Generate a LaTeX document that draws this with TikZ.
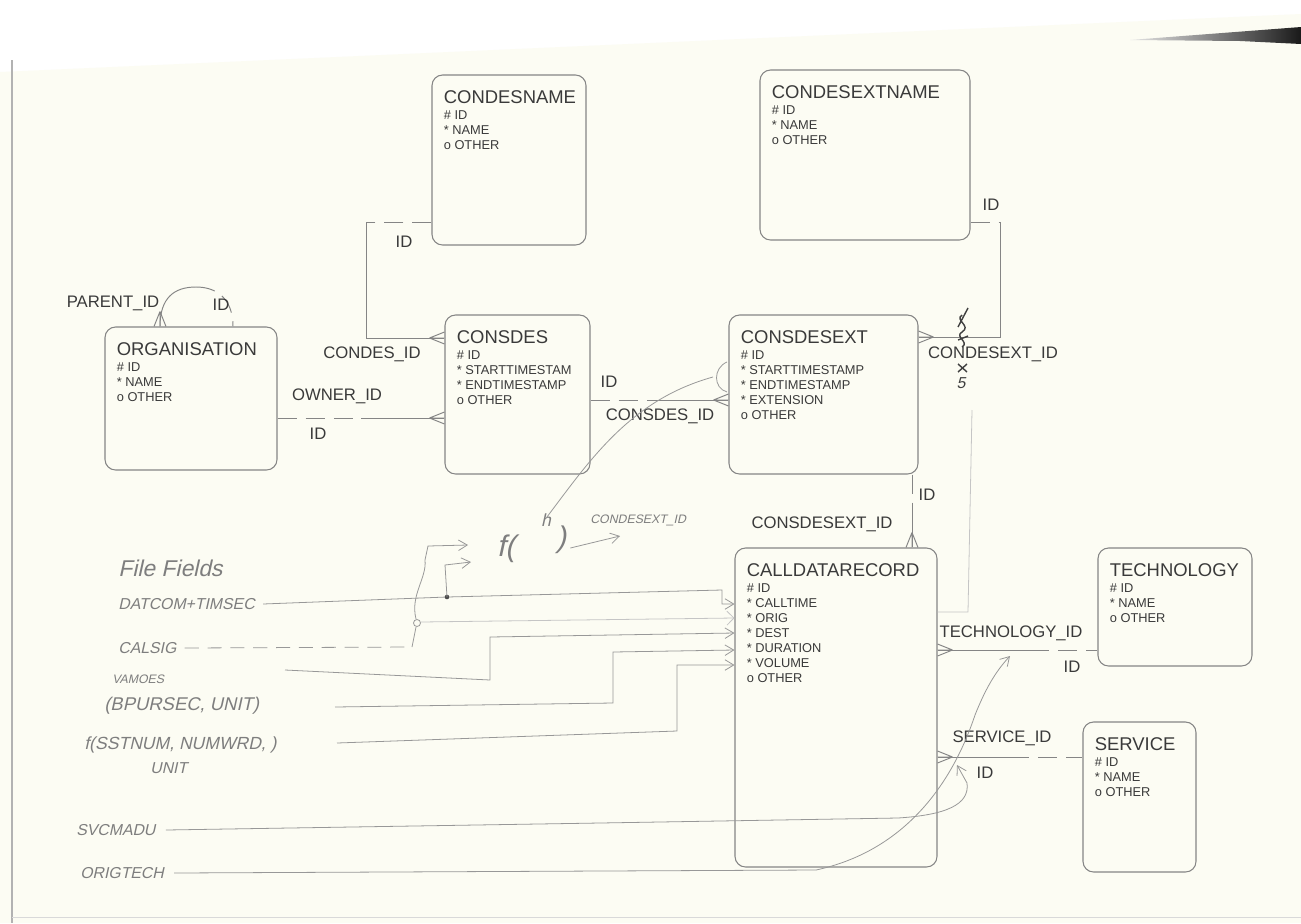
\documentclass[tikz,border=0pt]{standalone}
\usepackage{fontspec}
\setmainfont{Liberation Sans}
\newfontfamily\handfont[FakeSlant=0.22]{Liberation Sans}
\usetikzlibrary{arrows.meta,positioning,fit,calc}
\definecolor{paper}{HTML}{FCFCF3}
\definecolor{ink}{HTML}{3A3A3A}
\definecolor{rule}{HTML}{858585}
\definecolor{pencil}{HTML}{7E7E7E}

% one table of the model: name, corner, corner, title, attributes
\newcommand{\entity}[6]{%
  \node[entbox, fit={#2 #3}] (#1) {};
  \node[ttl] (#1-t) at ($(#1.north west)+(12,16)$) {#4};
  \node[attrs, below=3.5pt of #1-t.south west, anchor=north west] (#1-a) {#5};
}

\begin{document}
\begin{tikzpicture}[
  x=0.02cm, y=-0.02cm,
  entbox/.style={draw=rule, rounded corners=6pt, line width=0.6pt, inner sep=0pt},
  ttl/.style={anchor=north west, inner sep=0pt, text=ink,
              font=\fontsize{10.5}{12}\selectfont},
  attrs/.style={inner sep=0pt, text=ink, align=left,
                font=\fontsize{7.3}{8.5}\selectfont},
  rel/.style={draw=rule, line width=0.55pt},
  opt/.style={rel, dash pattern=on 11pt off 5pt},
  lbl/.style={text=ink, inner sep=0pt, font=\fontsize{9.5}{11}\selectfont},
  hand/.style={text=pencil, inner sep=0pt, font=\handfont\fontsize{9}{10}\selectfont},
  pen/.style={draw=pencil!80, line width=0.45pt},
  penarr/.style={pen, -{Straight Barb[length=5pt,width=6pt]}},
  crowfoot/.pic={\draw[rel] (-15,0) -- (0,-6) (-15,0) -- (0,0) (-15,0) -- (0,6);}
]
  \useasboundingbox (0,0) rectangle (1301,923);
  % scanned sheet
  \fill[white] (0,0) rectangle (1301,923);
  \fill[paper] (0,72) -- (1301,14) -- (1301,923) -- (0,923) -- cycle;
  \shade[left color=black!10, right color=black!90] (1130,40) -- (1301,27) -- (1301,44) -- (1240,41) -- cycle;
  \draw[black!30, line width=1pt] (12,60) -- (12,923);
  \draw[black!15] (12,917) -- (1301,917);

  % tables
  \entity{condesname}{(432,75)}{(586,245)}{CONDESNAME}{\# ID\\* NAME\\o OTHER}{}
  \entity{condesextname}{(760,70)}{(970,240)}{CONDESEXTNAME}{\# ID\\* NAME\\o OTHER}{}
  \entity{org}{(105,327)}{(277,470)}{ORGANISATION}{\# ID\\* NAME\\o OTHER}{}
  \entity{consdes}{(445,315)}{(590,474)}{CONSDES}
    {\# ID\\* STARTTIMESTAM\\* ENDTIMESTAMP\\o OTHER}{}
  \entity{consdesext}{(729,315)}{(918,474)}{CONSDESEXT}
    {\# ID\\* STARTTIMESTAMP\\* ENDTIMESTAMP\\* EXTENSION\\o OTHER}{}
  \entity{cdr}{(735,548)}{(937,867)}{CALLDATARECORD}
    {\# ID\\* CALLTIME\\* ORIG\\* DEST\\* DURATION\\* VOLUME\\o OTHER}{}
  \entity{tech}{(1098,548)}{(1252,666)}{TECHNOLOGY}{\# ID\\* NAME\\o OTHER}{}
  \entity{service}{(1083,722)}{(1196,872)}{SERVICE}{\# ID\\* NAME\\o OTHER}{}

  % relations
  \coordinate (cnA) at (366,222);
  \coordinate (cnB) at (366,338);
  \draw[opt] (condesname.west |- cnA) -- (cnA);
  \draw[rel] (cnA) -- (cnB) -- (consdes.west |- cnB);
  \pic at (consdes.west |- cnB) {crowfoot};
  \node[lbl] (cnid) at (404,242) {ID};
  \node[lbl] (cnfk) at (372,354) {CONDES\_ID};

  \coordinate (loop) at (196,287);
  \draw[rel] (org.north -| 160,0) .. controls (160,298) and (174,287) .. (loop);
  \draw[opt] (loop) .. controls (218,287) and (233,300) .. (org.north -| 233,0);
  \pic[rotate=-90] at (org.north -| 160,0) {crowfoot};
  \node[lbl] (orgfk) at (113,303) {PARENT\_ID};
  \node[lbl] (orgid) at (221,305) {ID};

  \coordinate (ocM) at (361,418);
  \draw[opt] (org.east |- ocM) -- (ocM);
  \draw[rel] (ocM) -- (consdes.west |- ocM);
  \pic at (consdes.west |- ocM) {crowfoot};
  \node[lbl] (ocfk) at (337,396) {OWNER\_ID};
  \node[lbl] (ocid) at (318,434) {ID};

  \coordinate (ceM) at (660,400);
  \draw[opt] (consdes.east |- ceM) -- (ceM);
  \draw[rel] (ceM) -- (consdesext.west |- ceM);
  \pic at (consdesext.west |- ceM) {crowfoot};
  \node[lbl] (ceid) at (609,382) {ID};
  \node[lbl] (cefk) at (660,416) {CONSDES\_ID};

  \coordinate (xnA) at (1000,222);
  \coordinate (xnB) at (1000,337);
  \draw[opt] (condesextname.east |- xnA) -- (xnA);
  \draw[rel] (xnA) -- (xnB) -- (consdesext.east |- xnB);
  \pic[rotate=180] at (consdesext.east |- xnB) {crowfoot};
  \node[lbl] (xnid) at (991,205) {ID};
  \node[lbl] (xnfk) at (993,354) {CONDESEXT\_ID};

  \coordinate (cdM) at (912,512);
  \draw[opt] (consdesext.south -| cdM) -- (cdM);
  \draw[rel] (cdM) -- (cdr.north -| cdM);
  \pic[rotate=-90] at (cdr.north -| cdM) {crowfoot};
  \node[lbl] (cdid) at (927,495) {ID};
  \node[lbl] (cdfk) at (822,524) {CONSDESEXT\_ID};

  \coordinate (ctM) at (1030,650);
  \draw[rel] (cdr.east |- ctM) -- (ctM);
  \draw[opt] (ctM) -- (tech.west |- ctM);
  \pic[rotate=180] at (cdr.east |- ctM) {crowfoot};
  \node[lbl] (ctfk) at (1011,633) {TECHNOLOGY\_ID};
  \node[lbl] (ctid) at (1072,667) {ID};

  \coordinate (csM) at (1010,757);
  \draw[rel] (cdr.east |- csM) -- (csM);
  \draw[opt] (csM) -- (service.west |- csM);
  \pic[rotate=180] at (cdr.east |- csM) {crowfoot};
  \node[lbl] (csfk) at (1002,738) {SERVICE\_ID};
  \node[lbl] (csid) at (985,773) {ID};

  % pencil notes
  \node[hand, font=\handfont\fontsize{13}{14}\selectfont, anchor=west] (ff) at (118,568) {File Fields};
  \node[hand, anchor=west] (datcom) at (118,604) {DATCOM+TIMSEC};
  \node[hand, anchor=west] (calsig) at (118,648) {CALSIG};
  \node[hand, font=\handfont\fontsize{7}{8}\selectfont, anchor=west] (vamoes) at (112,679) {VAMOES};
  \node[hand, font=\handfont\fontsize{10.5}{12}\selectfont, anchor=west] (bpur) at (104,706) {(BPURSEC, UNIT)};
  \node[hand, font=\handfont\fontsize{10}{12}\selectfont, anchor=west] (sstnum) at (84,745) {f(SSTNUM, NUMWRD, )};
  \node[hand, anchor=west] (unit) at (150,768) {UNIT};
  \node[hand, anchor=west] (svc) at (76,830) {SVCMADU};
  \node[hand, anchor=west] (origt) at (80,873) {ORIGTECH};
  \node[hand, font=\handfont\fontsize{17}{18}\selectfont] (fcall) at (506,549) {f(};
  \node[hand, font=\handfont\fontsize{10}{12}\selectfont] (fh) at (546,520) {h};
  \node[hand, font=\handfont\fontsize{17}{18}\selectfont] (fclose) at (561,540) {)};
  \node[hand, font=\handfont\fontsize{7}{8}\selectfont, anchor=west] (hfk) at (590,520) {CONDESEXT\_ID};
  \node[hand, font=\handfont\fontsize{9}{10}\selectfont, text=black!75] (five) at (961,383) {5};

  \draw[penarr] (datcom.east) ++(8,0) -- (447,597) -- (722,590) -- (722,604) -- (cdr.west |- 0,604);
  \fill[pencil!60!black] (447,597) circle (1.3pt);
  \draw[penarr] (447,597) -- (445,565) -- (471,562);
  \draw[pen, dash pattern=on 8pt off 5pt] (calsig.east) ++(8,0) -- (412,647);
  \draw[pen] (412,647) -- (416,627);
  \draw[pen] (417,623) circle (2pt);
  \draw[penarr] (416,619) .. controls (410,595) and (427,578) .. (425,560) -- (428,546) -- (468,545);
  \draw[pen, draw=pencil!45, -{Straight Barb[length=4pt]}] (421,622) -- (cdr.west |- 0,618);
  \draw[penarr] (285,670) -- (490,680) -- (490,637) -- (cdr.west |- 0,633);
  \draw[penarr] (335,707) -- (613,703) -- (613,652) -- (cdr.west |- 0,650);
  \draw[penarr] (337,743) -- (677,731) -- (677,665) -- (cdr.west |- 0,665);
  \draw[penarr] (svc.east) ++(10,0) -- (600,823) -- (898,818)
        .. controls (945,815) and (970,805) .. (967,783) -- (957,765);
  \draw[penarr] (origt.east) ++(10,0) -- (816,870)
        .. controls (900,852) and (950,790) .. (975,715)
        .. controls (985,690) and (995,672) .. (1010,656);
  \draw[pen] (fh.north) ++(0,5) .. controls (590,460) and (630,400) .. (713,377);
  \draw[pen] (727,362) .. controls (713,368) and (713,388) .. (727,392);
  \draw[penarr] (fclose.east) ++(4,8) -- (620,536);
  \draw[pen, draw=pencil!45] (cdr.east |- 0,612) -- (968,612) -- (972,410);
  % scribble over the foreign key
  \draw[black!75, line width=0.8pt] (958,327) -- (968,308)
        (962,315) .. controls (954,320) and (972,326) .. (962,332)
        .. controls (954,337) and (970,342) .. (962,347)
        (958,340) -- (968,336) (958,364) -- (967,372) (967,364) -- (958,372);
\end{tikzpicture}
\end{document}
